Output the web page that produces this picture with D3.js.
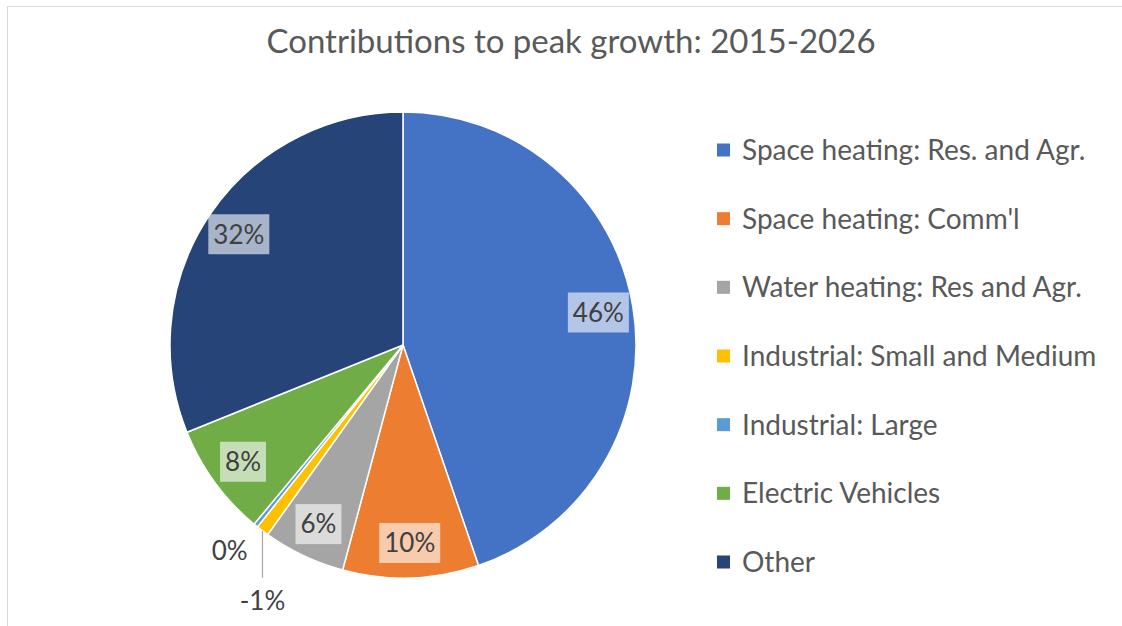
<!DOCTYPE html>
<html>
<head>
<meta charset="utf-8">
<script src="https://cdn.jsdelivr.net/npm/d3@7"></script>
<style>
  html, body { margin: 0; padding: 0; background: #fff; }
  svg { display: block; font-family: Lato, "Open Sans", sans-serif; }
</style>
</head>
<body>
<svg id="chart" width="1122" height="626"></svg>
<script>
const title = "Contributions to peak growth: 2015-2026";
const categories = [
  "Space heating: Res. and Agr.",
  "Space heating: Comm'l",
  "Water heating: Res and Agr.",
  "Industrial: Small and Medium",
  "Industrial: Large",
  "Electric Vehicles",
  "Other"
];
const values = [45.6, 9.6, 5.8, -0.9, 0.3, 8.0, 31.7];
const colors = ["#4472C4", "#ED7D31", "#A5A5A5", "#FFC000", "#5B9BD5", "#70AD47", "#264478"];

const svg = d3.select("#chart");
const W = 1122, H = 626;

// chart border (cropped at right/bottom)
svg.append("rect")
  .attr("x", 7.5).attr("y", 6.5)
  .attr("width", W + 20).attr("height", H + 20)
  .attr("fill", "#fff").attr("stroke", "#d9d9d9").attr("stroke-width", 1);

svg.append("text")
  .attr("x", 571).attr("y", 53)
  .attr("text-anchor", "middle")
  .attr("font-size", 33)
  .attr("fill", "#595959")
  .text(title);

const cx = 403, cy = 345, R = 233;
const data = categories.map((c, i) => ({ name: c, value: values[i], color: colors[i] }));
const total = d3.sum(values);

const pie = d3.pie().sort(null).value(d => Math.abs(d.value));
const arcs = pie(data);
const arc = d3.arc().innerRadius(0).outerRadius(R);
const labelArc = d3.arc().innerRadius(R * 0.85).outerRadius(R * 0.85);
const edgeArc = d3.arc().innerRadius(R).outerRadius(R);

const g = svg.append("g").attr("transform", `translate(${cx},${cy})`);

g.selectAll("path.slice")
  .data(arcs)
  .join("path")
  .attr("class", "slice")
  .attr("d", arc)
  .attr("fill", d => d.data.color)
  .attr("stroke", "#fff")
  .attr("stroke-width", 1.5)
  .attr("stroke-linejoin", "round");

const fmt = v => `${Math.round(v / total * 100)}%`;
const labelSize = 26;
const smallSpan = 0.1;

const inside = arcs.filter(d => d.endAngle - d.startAngle >= smallSpan);
const outside = arcs.filter(d => d.endAngle - d.startAngle < smallSpan);

inside.forEach(d => {
  const [x, y] = labelArc.centroid(d);
  const lg = g.append("g").attr("transform", `translate(${x},${y})`);
  const t = lg.append("text")
    .attr("text-anchor", "middle")
    .attr("dy", "0.36em")
    .attr("font-size", labelSize)
    .attr("fill", "#404040")
    .text(fmt(d.data.value));
  const w = t.node().getComputedTextLength() + 10;
  lg.insert("rect", "text")
    .attr("x", -w / 2).attr("y", -20)
    .attr("width", w).attr("height", 40)
    .attr("fill", "#fff").attr("fill-opacity", 0.6);
});

// small slices: labels outside (first with a leader line below, second offset left)
outside.forEach((d, k) => {
  const [ex, ey] = edgeArc.centroid(d);
  if (k === 0) {
    g.append("line")
      .attr("x1", ex).attr("y1", ey)
      .attr("x2", ex).attr("y2", ey + 47)
      .attr("stroke", "#a6a6a6").attr("stroke-width", 1.2);
    g.append("text")
      .attr("x", ex).attr("y", ey + 70)
      .attr("dy", "0.36em")
      .attr("text-anchor", "middle")
      .attr("font-size", labelSize)
      .attr("fill", "#404040")
      .text(fmt(d.data.value));
  } else {
    g.append("text")
      .attr("x", ex - 26).attr("y", ey + 25)
      .attr("dy", "0.36em")
      .attr("text-anchor", "middle")
      .attr("font-size", labelSize)
      .attr("fill", "#404040")
      .text(fmt(d.data.value));
  }
});

// legend
const legendY = d3.scalePoint().domain(categories).range([150, 562]);
const leg = svg.append("g");
const items = leg.selectAll("g.item").data(data).join("g")
  .attr("class", "item")
  .attr("transform", d => `translate(717,${legendY(d.name)})`);
items.append("rect")
  .attr("x", 0).attr("y", -6.5)
  .attr("width", 13).attr("height", 13)
  .attr("fill", d => d.color);
items.append("text")
  .attr("x", 25).attr("dy", "0.36em")
  .attr("font-size", 28)
  .attr("fill", "#595959")
  .text(d => d.name);
</script>
</body>
</html>
